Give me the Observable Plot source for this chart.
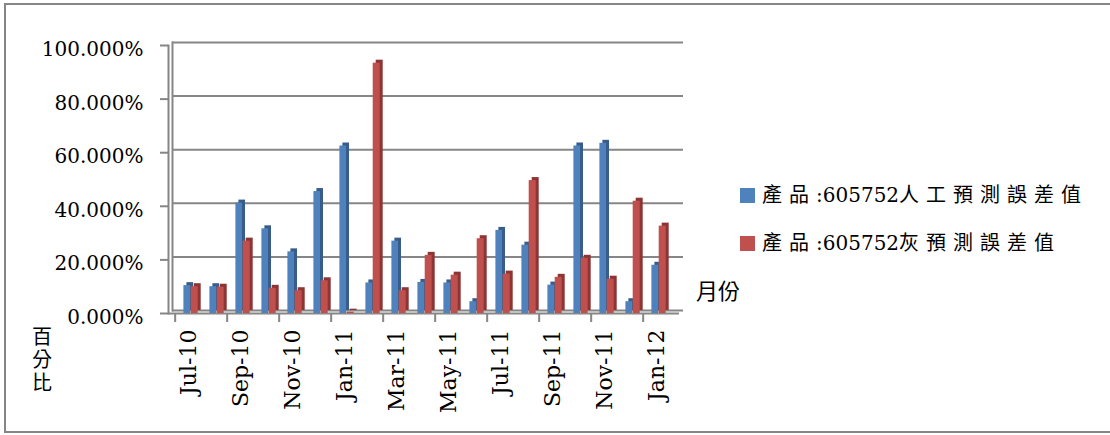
<!DOCTYPE html>
<html>
<head>
<meta charset="utf-8">
<script src="https://cdn.jsdelivr.net/npm/d3@7"></script>
<script src="https://cdn.jsdelivr.net/npm/@observablehq/plot@0.6"></script>
<style>
  html, body { margin: 0; padding: 0; background: #fff; }
  #chart svg { display: block; }
</style>
</head>
<body>
<div id="chart"></div>
<script>
// Monthly forecast error (%) for product 605752
const months = ["Jul-10", "Aug-10", "Sep-10", "Oct-10", "Nov-10", "Dec-10", "Jan-11", "Feb-11", "Mar-11", "Apr-11",
                "May-11", "Jun-11", "Jul-11", "Aug-11", "Sep-11", "Oct-11", "Nov-11", "Dec-11", "Jan-12"];
const manualError = [10.4, 10.0, 41.2, 31.6, 23.0, 45.5, 62.5, 11.4, 27.0, 11.6,
                     11.4, 4.4, 31.0, 25.5, 10.6, 62.5, 63.5, 4.4, 18.0];
const greyError = [10.0, 9.8, 27.0, 9.4, 8.5, 12.2, 0.5, 93.4, 8.5, 21.7,
                   14.3, 27.9, 14.7, 49.6, 13.5, 20.6, 12.8, 41.9, 32.6];
const yTicks = [0, 20, 40, 60, 80, 100];
const labeledMonths = months.filter((d, i) => i % 2 === 0);
const seriesNames = ["產品:605752人工預測誤差值", "產品:605752灰預測誤差值"];
const xTitle = "月份";
const yTitle = "百分比";

const blue = "#4F81BD", blueDark = "#385D8A";
const red = "#C0504D", redDark = "#8C3533";
const gray = "#868686";
const serif = "'DejaVu Serif', 'Noto Sans CJK TC', serif";

const rows = months.map((m, i) => ({month: m, manual: manualError[i], grey: greyError[i]}));

const W = 1110, H = 435;
const band = 26.67;          // width of one month
const depth = {dx: 3, dy: -3}; // 3-D depth offset of the bars

const chart = Plot.plot({
  width: W,
  height: H,
  marginLeft: 168,
  marginRight: 431,
  marginTop: 45,
  marginBottom: 122,
  style: {background: "white", fontFamily: serif, color: "black"},
  x: {domain: months, range: [168.3, 168.3 + band * months.length], padding: 0, axis: null},
  y: {domain: [0, 100], axis: null},
  marks: [
    // back wall gridlines and wall edge
    Plot.ruleY(yTicks, {dx: 4, dy: -3, stroke: gray, strokeWidth: 2}),
    Plot.frame({anchor: "left", dx: 4, dy: -3, stroke: gray, strokeWidth: 2}),
    // floor front edge and value axis
    Plot.ruleY([0], {stroke: gray, strokeWidth: 2}),
    Plot.frame({anchor: "left", stroke: gray, strokeWidth: 2}),
    Plot.axisY({ticks: yTicks, tickSize: 8, tickFormat: () => "", stroke: gray, strokeWidth: 2, label: null}),
    Plot.axisY({ticks: yTicks, tickSize: 0, tickPadding: 25, dy: 4,
                tickFormat: d => d.toFixed(3) + "%", fontSize: 20, fontFamily: serif, fill: "black", label: null}),
    // category ticks between every second month
    Plot.axisX({ticks: labeledMonths, tickSize: 9, dx: -band / 2, tickFormat: () => "",
                stroke: gray, strokeWidth: 2, label: null}),
    Plot.axisX({ticks: labeledMonths, tickSize: 0, tickPadding: 16, tickRotate: -90,
                fontSize: 22, fontFamily: serif, fill: "black", label: null}),
    // bars: darker copy behind gives the side and top faces
    Plot.barY(rows, {x: "month", y: "manual", fill: blueDark, insetLeft: 8.4, insetRight: 11, ...depth}),
    Plot.barY(rows, {x: "month", y: "manual", fill: blue, insetLeft: 8.4, insetRight: 11}),
    Plot.barY(rows, {x: "month", y: "grey", fill: redDark, insetLeft: 15.7, insetRight: 3.3, ...depth}),
    Plot.barY(rows, {x: "month", y: "grey", fill: red, insetLeft: 15.7, insetRight: 3.3})
  ]
});

document.getElementById("chart").appendChild(chart);

const svg = d3.select(chart);

// outer chart border
svg.append("rect")
  .attr("x", 5).attr("y", 4).attr("width", W).attr("height", 428)
  .attr("fill", "none").attr("stroke", gray).attr("stroke-width", 2);

// legend
const legendColors = [blue, red];
seriesNames.forEach((name, i) => {
  const y = 195 + i * 48;
  svg.append("rect").attr("x", 740).attr("y", y - 7).attr("width", 15).attr("height", 15)
    .attr("fill", legendColors[i]);
  const t = svg.append("text").attr("x", 762).attr("y", y).attr("dy", "0.36em")
    .attr("text-anchor", "start")
    .attr("font-size", 20).attr("font-family", serif).attr("fill", "black");
  // CJK runs are set with extra tracking, the product code without
  name.split(/([:0-9]+)/).filter(s => s).forEach(part => {
    t.append("tspan").text(part)
      .attr("letter-spacing", /^[:0-9]+$/.test(part) ? 0 : 7);
  });
});

// axis titles
svg.append("text").attr("x", 696).attr("y", 291).attr("dy", "0.36em")
  .attr("text-anchor", "start")
  .attr("font-size", 22).attr("font-family", "'Noto Sans CJK TC', sans-serif").attr("fill", "black")
  .text(xTitle);

// vertical (top-to-bottom) value-axis title
svg.append("text")
  .attr("x", 42).attr("y", 326)
  .attr("text-anchor", "start")
  .attr("font-size", 20).attr("letter-spacing", 3)
  .attr("font-family", "'Noto Sans CJK TC', sans-serif").attr("fill", "black")
  .style("writing-mode", "vertical-rl")
  .text(yTitle);
</script>
</body>
</html>
